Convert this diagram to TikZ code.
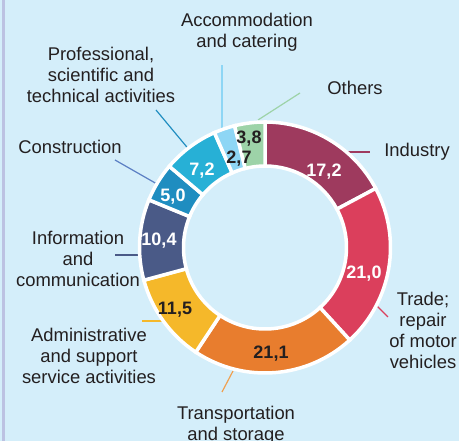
\documentclass[tikz,border=0pt]{standalone}
\usepackage{fontspec}
\setmainfont{Liberation Sans}
\definecolor{bg}{HTML}{D4EEFA}
\definecolor{edgeline}{HTML}{BCC2E2}
\definecolor{txt}{HTML}{231F20}
\definecolor{cInd}{HTML}{9E3A5E}
\definecolor{cTrade}{HTML}{DB3F5C}
\definecolor{cTrans}{HTML}{E87D2E}
\definecolor{cTransL}{HTML}{F0A050}
\definecolor{cAdm}{HTML}{F5B82A}
\definecolor{cInfo}{HTML}{4A5A87}
\definecolor{cCons}{HTML}{1F8DC0}
\definecolor{cConsL}{HTML}{5B7FC4}
\definecolor{cProf}{HTML}{27B0D6}
\definecolor{cAcc}{HTML}{8ED6F5}
\definecolor{cOth}{HTML}{9DD3A8}
\newcommand\donutseg[3]{%
  \filldraw[fill=#3, draw=white, line width=3.5pt]
    (#1:125.5) arc[start angle=#1, end angle=#2, radius=125.5]
    -- (#2:81.5) arc[start angle=#2, end angle=#1, radius=81.5] -- cycle;}
\begin{document}
\begin{tikzpicture}[x=1pt,y=-1pt,
  lbl/.style={font=\fontsize{18.4}{21}\selectfont, text=txt, align=center, inner sep=0pt},
  val/.style={font=\bfseries\fontsize{18}{20}\selectfont, inner sep=0pt, text depth=0pt},
  lead/.style={line width=1.2pt}]
\useasboundingbox (0,0) rectangle (459,441);
\fill[bg] (0,0) rectangle (459,441);
\fill[edgeline] (2.3,0) rectangle (5,441);

% labels
\node[lbl] (lAcc) at (247,32) {Accommodation\\and catering};
\node[lbl] (lProf) at (101,75) {Professional,\\scientific and\\technical activities};
\node[lbl] (lOth) at (355,88) {Others};
\node[lbl] (lCons) at (70,147) {Construction};
\node[lbl] (lInd) at (417,152) {Industry};
\node[lbl] (lInfo) at (78,259) {Information\\and\\communication};
\node[lbl] (lAdm) at (89,356) {Administrative\\and support\\service activities};
\node[lbl] (lTrade) at (423,330.5) {Trade;\\repair\\of motor\\vehicles};
\node[lbl] (lTrans) at (236,425) {Transportation\\and storage};

% leader lines
\coordinate (iA) at (345,152); \coordinate (iB) at (370,152);
\coordinate (tA) at (376,305); \coordinate (tB) at (388,317);
\coordinate (trA) at (233,371); \coordinate (trB) at (222,392);
\coordinate (aA) at (162,321); \coordinate (aB) at (142,321);
\coordinate (nA) at (138,255); \coordinate (nB) at (115,255);
\coordinate (cA) at (157,184); \coordinate (cB) at (115,160);
\coordinate (pA) at (191,152); \coordinate (pB) at (156,110);
\coordinate (acA) at (222,130); \coordinate (acB) at (222,65);
\coordinate (oA) at (258,120); \coordinate (oB) at (300,93);
\draw[lead, cInd] (iA) -- (iB);
\draw[lead, cTrade] (tA) -- (tB);
\draw[lead, cTransL] (trA) -- (trB);
\draw[lead, cAdm] (aA) -- (aB);
\draw[lead, cInfo] (nA) -- (nB);
\draw[lead, cConsL] (cA) -- (cB);
\draw[lead, cCons] (pA) -- (pB);
\draw[lead, cAcc] (acA) -- (acB);
\draw[lead, cOth] (oA) -- (oB);

% donut
\begin{scope}[shift={(265,247.5)}]
\donutseg{-90}{-28.08}{cInd}
\donutseg{-28.08}{47.52}{cTrade}
\donutseg{47.52}{123.48}{cTrans}
\donutseg{123.48}{164.88}{cAdm}
\donutseg{164.88}{202.32}{cInfo}
\donutseg{202.32}{220.32}{cCons}
\donutseg{220.32}{246.24}{cProf}
\donutseg{246.24}{255.96}{cAcc}
\donutseg{255.96}{270}{cOth}
\end{scope}

% values
\node[val, text=white] (vInd) at (324,170) {17,2};
\node[val, text=white] (vTrade) at (364,272) {21,0};
\node[val, text=txt] (vTrans) at (271,352) {21,1};
\node[val, text=txt] (vAdm) at (175,308) {11,5};
\node[val, text=white] (vInfo) at (159,239) {10,4};
\node[val, text=white] (vCons) at (173,195) {5,0};
\node[val, text=white] (vProf) at (202,169) {7,2};
\node[val, text=txt] (vAcc) at (239,157) {2,7};
\node[val, text=txt] (vOth) at (249,137) {3,8};
\end{tikzpicture}
\end{document}
